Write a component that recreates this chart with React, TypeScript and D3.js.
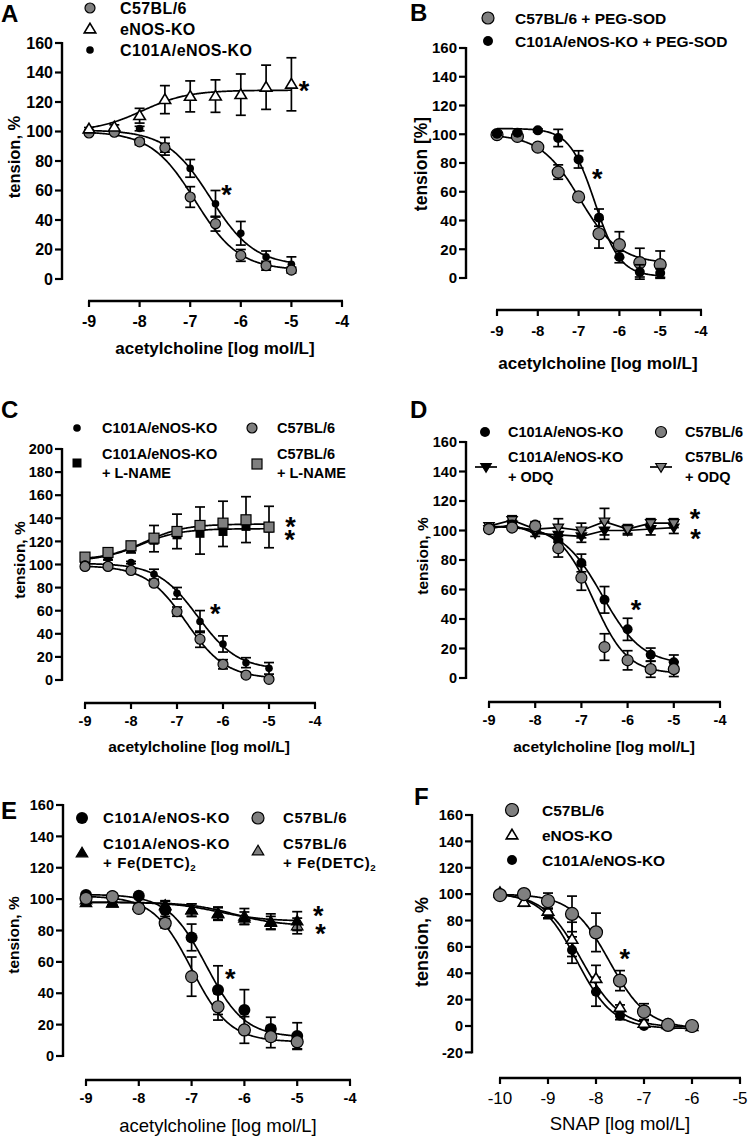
import React from "react";
import * as d3 from "d3";

const FONT = '"Liberation Sans", Arial, Helvetica, sans-serif';
const GRAY = "#7f7f7f";

// ---------------- Panel A ----------------
const xA = [-9, -8.5, -8, -7.5, -7, -6.5, -6, -5.5, -5];
const A_c57 = [99, 99.5, 93, 89, 55.6, 37.5, 16, 9, 6];
const A_c57Err = [1, 1, 2, 3, 7, 5, 4, 3, 2];
const A_enos = [101.7, 103, 110.7, 121.6, 123.8, 124, 125, 130, 132];
const A_enosErr = [1, 1.5, 5, 9.5, 10.5, 11, 14, 15, 18];
const A_c101 = [100, 99.5, 102, 90, 75, 51, 31, 15, 10];
const A_c101Err = [1, 1, 1.5, 6, 6, 9, 8, 4, 5];
// fitted curve parameters: [left plateau, right plateau, logEC50, hill]
const A_c57Fit = [100, 6, -6.9, 1.0];
const A_enosFit = [100, 128, -7.95, 0.95];
const A_c101Fit = [101, 9, -6.6, 1.0];

// ---------------- Panel B ----------------
const xB = [-9, -8.5, -8, -7.5, -7, -6.5, -6, -5.5, -5];
const B_c57 = [99.7, 98.5, 91, 73.7, 56.4, 30.8, 23.2, 10.7, 9.3];
const B_c57Err = [1, 1, 1.5, 5, 2, 10, 9, 10, 9.5];
const B_c101 = [100.4, 101, 102.7, 97.4, 82.5, 42, 14.6, 4.2, 3.5];
const B_c101Err = [1, 1, 1, 6, 6, 6, 4, 5, 3];
const B_c57Fit = [100, 10, -6.97, 0.9];
const B_c101Fit = [104, 1, -6.6, 1.4];

// ---------------- Panel C ----------------
const xC = [-9, -8.5, -8, -7.5, -7, -6.5, -6, -5.5, -5];
const C_c101 = [100.3, 99.7, 101.7, 91.6, 75.1, 50.6, 31.2, 15, 10.1];
const C_c101Err = [1, 1, 1, 4.3, 5, 9.5, 7, 4.3, 5];
const C_c57 = [98.3, 98.3, 94.8, 83.8, 59.2, 35.3, 13.6, 4.3, 0.6];
const C_c57Err = [1, 1, 1.5, 2, 4, 7, 4, 2, 1.5];
const C_c101L = [104.6, 107, 114, 121, 125.7, 127, 128.6, 133, 131.5];
const C_c101LErr = [2, 3, 4, 10, 12, 18, 13, 14, 17];
const C_c57L = [106.4, 110.4, 116.2, 122.8, 128.6, 133.8, 135.8, 138.7, 132.4];
const C_c57LErr = [2, 2, 3, 11, 15, 16, 19, 20, 18];
const C_c101Fit = [101, 9, -6.55, 1.0];
const C_c57Fit = [99, 1, -6.8, 1.0];
const C_c101LFit = [103, 131, -7.8, 1.0];
const C_c57LFit = [104, 135, -7.7, 1.0];

// ---------------- Panel D ----------------
const xD = [-9, -8.5, -8, -7.5, -7, -6.5, -6, -5.5, -5];
const D_c101 = [102, 104, 104, 93, 78, 53, 33, 15.8, 10.6];
const D_c101Err = [1, 2, 2, 4, 6, 9, 7.5, 4.5, 5];
const D_c57 = [101, 102, 103, 88, 68, 21, 12, 6, 6];
const D_c57Err = [1, 1.5, 2, 6, 8.5, 9, 6.5, 5.5, 5];
const D_c101ODQ = [101, 104, 98, 97, 96, 100, 100, 101, 102];
const D_c101ODQErr = [2, 3, 2, 5, 4, 6, 3, 4, 4];
const D_c57ODQ = [103, 107, 101, 102, 100, 106, 101, 105, 105];
const D_c57ODQErr = [2, 3, 2, 6, 5, 9, 3, 3, 3];
const D_c101Fit = [103, 9, -6.55, 1.0];
const D_c57Fit = [103, 3, -6.74, 1.19];

// ---------------- Panel E ----------------
const xE = [-9, -8.5, -8, -7.5, -7, -6.5, -6, -5.5, -5];
const E_c101 = [102.6, 101.6, 102.2, 93, 75.6, 42, 29.3, 17.2, 12.7];
const E_c101Err = [1, 1, 1, 4, 8.5, 15.5, 13, 7.5, 8.5];
const E_c57 = [100.5, 101.6, 94.1, 84.6, 50.6, 31.4, 16.6, 12.3, 9.1];
const E_c57Err = [1, 1, 2, 3, 12.5, 8.5, 8.5, 7, 4.5];
const E_c101Fe = [97.7, 97.3, 96.3, 95.6, 93, 90.5, 87.8, 85, 86];
const E_c101FeErr = [1, 1, 1, 3, 4, 4, 4, 4, 6];
const E_c57Fe = [99.4, 97.5, 96, 96, 93, 91, 89, 85.6, 82.9];
const E_c57FeErr = [1, 1, 1, 3, 4, 4, 5, 5, 5];
const E_c101Fit = [103, 12, -6.72, 1.2];
const E_c57Fit = [102, 9, -7.0, 1.2];
const E_c101FeFit = [98, 86, -6.5, 1.0];
const E_c57FeFit = [98, 83, -6.2, 1.0];

// ---------------- Panel F ----------------
const xF = [-10, -9.5, -9, -8.5, -8, -7.5, -7, -6.5, -6];
const F_c57 = [99.3, 100, 94.8, 85, 71, 34.4, 10.9, 0.8, 0];
const F_c57Err = [1, 1, 6, 13.5, 14.6, 7.6, 6, 1, 1];
const F_enos = [101, 93.8, 87, 65.7, 36, 14, 2, 1, -0.5];
const F_enosErr = [1, 3, 5, 13, 10, 2, 2, 1, 1];
const F_c101 = [100, 99.3, 85.4, 57.6, 26, 7.8, 0, 0, -1.3];
const F_c101Err = [1, 1, 4, 10, 11, 3, 1, 1, 1];
const F_c57Fit = [100, -2, -7.72, 1.1];
const F_enosFit = [101, -1, -8.3, 1.1];
const F_c101Fit = [101, -2, -8.4, 1.15];

const ticksAch = [-9, -8, -7, -6, -5, -4];
const ticksSnap = [-10, -9, -8, -7, -6, -5];
const yTicks160 = [0, 20, 40, 60, 80, 100, 120, 140, 160];
const yTicks200 = [0, 20, 40, 60, 80, 100, 120, 140, 160, 180, 200];
const yTicksF = [-20, 0, 20, 40, 60, 80, 100, 120, 140, 160];

type Marker =
  | "grayCircle"
  | "blackCircle"
  | "openTri"
  | "blackTri"
  | "grayTri"
  | "blackTriDown"
  | "grayTriDown"
  | "blackSq"
  | "graySq";

interface Series {
  values: number[];
  err: number[];
  marker: Marker;
  size: number;
  fit?: number[];
  connect?: boolean;
  errDir?: "both" | "up" | "down";
}

interface LegendLine {
  text: string;
  sub?: string;
}
interface LegendItem {
  marker: Marker;
  size: number;
  mx: number;
  my: number;
  tx: number;
  ty: number;
  lines: LegendLine[];
  withLine?: boolean;
}

interface PanelCfg {
  letter: string;
  letterPos: [number, number];
  xs: number[];
  xDomain: [number, number];
  xRange: [number, number];
  yDomain: [number, number];
  yRange: [number, number];
  xTicks: number[];
  yTicks: number[];
  yAxisX: number;
  xAxisY: number;
  series: Series[];
  legend: LegendItem[];
  stars: [number, number][];
  yLabel: string;
  yLabelPos: [number, number];
  xLabel: string;
  xLabelPos: [number, number];
  tickFont: number;
  xTickFont?: number;
  xTickWeight?: string;
  tickWeight?: string;
  legendFont: number;
  legendSpacing?: number;
  yLabelFont: number;
  xLabelFont: number;
  xLabelWeight?: string;
  xTickOffset: number;
  legendDy?: number;
}

function logistic(p: number[], x: number) {
  const [left, right, c, h] = p;
  return left + (right - left) / (1 + Math.pow(10, h * (c - x)));
}

function MarkerShape({ kind, cx, cy, s }: { kind: Marker; cx: number; cy: number; s: number }) {
  const sw = 1.2;
  switch (kind) {
    case "grayCircle":
      return <circle cx={cx} cy={cy} r={s} fill={GRAY} stroke="#000" strokeWidth={sw} />;
    case "blackCircle":
      return <circle cx={cx} cy={cy} r={s} fill="#000" />;
    case "openTri":
    case "blackTri":
    case "grayTri": {
      const h = s * 1.75;
      const w = s * 1.05;
      const pts = `${cx},${cy - h * 0.6} ${cx - w},${cy + h * 0.4} ${cx + w},${cy + h * 0.4}`;
      const fill = kind === "openTri" ? "#fff" : kind === "blackTri" ? "#000" : GRAY;
      return <polygon points={pts} fill={fill} stroke="#000" strokeWidth={kind === "openTri" ? 1.6 : sw} strokeLinejoin="miter" />;
    }
    case "blackTriDown":
    case "grayTriDown": {
      const h = s * 1.75;
      const w = s * 1.05;
      const pts = `${cx},${cy + h * 0.6} ${cx - w},${cy - h * 0.4} ${cx + w},${cy - h * 0.4}`;
      const fill = kind === "blackTriDown" ? "#000" : GRAY;
      return <polygon points={pts} fill={fill} stroke="#000" strokeWidth={sw} />;
    }
    case "blackSq":
      return <rect x={cx - s} y={cy - s} width={2 * s} height={2 * s} fill="#000" />;
    case "graySq":
      return <rect x={cx - s} y={cy - s} width={2 * s} height={2 * s} fill={GRAY} stroke="#000" strokeWidth={sw} />;
  }
  return null;
}

function Panel({ cfg }: { cfg: PanelCfg }) {
  const x = d3.scaleLinear().domain(cfg.xDomain).range(cfg.xRange);
  const y = d3.scaleLinear().domain(cfg.yDomain).range(cfg.yRange);
  const x0 = cfg.xs[0];
  const x1 = cfg.xs[cfg.xs.length - 1];
  const curvePts = d3.range(0, 201).map((i) => x0 + ((x1 - x0) * i) / 200);
  const line = d3
    .line<[number, number]>()
    .x((d) => x(d[0]))
    .y((d) => y(d[1]));
  const tickLen = 7;
  const yTop = y(cfg.yTicks[cfg.yTicks.length - 1]);
  const yBot = y(cfg.yTicks[0]);
  const xLeft = x(cfg.xTicks[0]);
  const xRight = x(cfg.xTicks[cfg.xTicks.length - 1]);
  const tw = cfg.tickWeight || "bold";
  return (
    <g fontFamily={FONT}>
      {/* panel letter */}
      <text x={cfg.letterPos[0]} y={cfg.letterPos[1]} fontSize={24} fontWeight="bold">
        {cfg.letter}
      </text>
      {/* y axis */}
      <line x1={cfg.yAxisX} x2={cfg.yAxisX} y1={yTop - 1} y2={yBot + 1} stroke="#000" strokeWidth={2.4} />
      {cfg.yTicks.map((t) => (
        <g key={"yt" + t}>
          <line x1={cfg.yAxisX - tickLen} x2={cfg.yAxisX} y1={y(t)} y2={y(t)} stroke="#000" strokeWidth={2.2} />
          <text
            x={cfg.yAxisX - tickLen - 2}
            y={y(t)}
            dy="0.36em"
            textAnchor="end"
            fontSize={cfg.tickFont}
            fontWeight={tw}
          >
            {t}
          </text>
        </g>
      ))}
      {/* x axis */}
      <line x1={xLeft - 1} x2={xRight + 1} y1={cfg.xAxisY} y2={cfg.xAxisY} stroke="#000" strokeWidth={2.4} />
      {cfg.xTicks.map((t) => (
        <g key={"xt" + t}>
          <line x1={x(t)} x2={x(t)} y1={cfg.xAxisY} y2={cfg.xAxisY + 6} stroke="#000" strokeWidth={2.2} />
          <text
            x={x(t)}
            y={cfg.xAxisY + cfg.xTickOffset}
            dy="0.36em"
            textAnchor="middle"
            fontSize={cfg.xTickFont || cfg.tickFont}
            fontWeight={cfg.xTickWeight || tw}
          >
            {t}
          </text>
        </g>
      ))}
      {/* axis titles */}
      <text
        transform={`translate(${cfg.yLabelPos[0]},${cfg.yLabelPos[1]}) rotate(-90)`}
        dy="0.36em"
        textAnchor="middle"
        fontSize={cfg.yLabelFont}
        fontWeight="bold"
      >
        {cfg.yLabel}
      </text>
      <text
        x={cfg.xLabelPos[0]}
        y={cfg.xLabelPos[1]}
        dy="0.36em"
        textAnchor="middle"
        fontSize={cfg.xLabelFont}
        fontWeight={cfg.xLabelWeight || "bold"}
      >
        {cfg.xLabel}
      </text>
      {/* curves */}
      {cfg.series.map((s, i) => {
        const pts: [number, number][] = s.connect
          ? cfg.xs.map((xv, j) => [xv, s.values[j]])
          : s.fit
          ? curvePts.map((xv) => [xv, logistic(s.fit as number[], xv)])
          : [];
        if (!pts.length) return null;
        return <path key={"c" + i} d={line(pts) || ""} fill="none" stroke="#000" strokeWidth={1.7} />;
      })}
      {/* error bars and markers */}
      {cfg.series.map((s, i) => (
        <g key={"s" + i}>
          {cfg.xs.map((xv, j) => {
            const v = s.values[j];
            const e = s.err[j];
            const dir = s.errDir || "both";
            const top = dir === "down" ? v : v + e;
            const bot = dir === "up" ? v : v - e;
            const cx = x(xv);
            const cap = 5;
            return (
              <g key={"e" + j} stroke="#000" strokeWidth={1.7}>
                <line x1={cx} x2={cx} y1={y(top)} y2={y(bot)} />
                {dir !== "down" && <line x1={cx - cap} x2={cx + cap} y1={y(top)} y2={y(top)} />}
                {dir !== "up" && <line x1={cx - cap} x2={cx + cap} y1={y(bot)} y2={y(bot)} />}
              </g>
            );
          })}
          {cfg.xs.map((xv, j) => (
            <MarkerShape key={"m" + j} kind={s.marker} cx={x(xv)} cy={y(s.values[j])} s={s.size} />
          ))}
        </g>
      ))}
      {/* significance stars */}
      {cfg.stars.map((st, i) => (
        <text
          key={"st" + i}
          x={x(st[0])}
          y={y(st[1]) + 13}
          textAnchor="middle"
          fontSize={27}
          fontWeight="bold"
        >
          *
        </text>
      ))}
      {/* legend */}
      {cfg.legend.map((it, i) => (
        <g key={"l" + i}>
          {it.withLine && (
            <line x1={it.mx - 11} x2={it.mx + 11} y1={it.my} y2={it.my} stroke="#000" strokeWidth={1.7} />
          )}
          <MarkerShape kind={it.marker} cx={it.mx} cy={it.my} s={it.size} />
          {it.lines.map((ln, k) => (
            <text
              key={k}
              x={it.tx}
              y={it.ty + k * (cfg.legendDy || 19)}
              dy="0.36em"
              fontSize={cfg.legendFont}
              fontWeight="bold"
              letterSpacing={cfg.legendSpacing || 0}
            >
              {ln.text}
              {ln.sub && (
                <tspan fontSize={cfg.legendFont * 0.65} dy="0.3em">
                  {ln.sub}
                </tspan>
              )}
            </text>
          ))}
        </g>
      ))}
    </g>
  );
}

const ACH = "acetylcholine [log mol/L]";

const panelA: PanelCfg = {
  letter: "A",
  letterPos: [1, 22],
  xs: xA,
  xDomain: [-9, -4],
  xRange: [89, 342],
  yDomain: [0, 160],
  yRange: [279, 43],
  xTicks: ticksAch,
  yTicks: yTicks160,
  yAxisX: 62,
  xAxisY: 301,
  series: [
    { values: A_c101, err: A_c101Err, marker: "blackCircle", size: 3.8, fit: A_c101Fit },
    { values: A_c57, err: A_c57Err, marker: "grayCircle", size: 5, fit: A_c57Fit },
    { values: A_enos, err: A_enosErr, marker: "openTri", size: 5.5, fit: A_enosFit },
  ],
  legend: [
    { marker: "grayCircle", size: 5, mx: 90, my: 8, tx: 120, ty: 8, lines: [{ text: "C57BL/6" }] },
    { marker: "openTri", size: 5.5, mx: 90, my: 29, tx: 120, ty: 29, lines: [{ text: "eNOS-KO" }] },
    { marker: "blackCircle", size: 3.8, mx: 90, my: 50, tx: 120, ty: 50, lines: [{ text: "C101A/eNOS-KO" }] },
  ],
  stars: [
    [-4.75, 130],
    [-6.28, 59.4],
  ],
  yLabel: "tension, %",
  yLabelPos: [14, 157],
  xLabel: ACH,
  xLabelPos: [215, 348],
  tickFont: 16,
  legendFont: 16,
  legendSpacing: 0.4,
  yLabelFont: 16.5,
  xLabelFont: 17,
  xTickOffset: 20,
};

const panelB: PanelCfg = {
  letter: "B",
  letterPos: [410, 21],
  xs: xB,
  xDomain: [-9, -4],
  xRange: [497, 701],
  yDomain: [0, 160],
  yRange: [278, 48],
  xTicks: ticksAch,
  yTicks: yTicks160,
  yAxisX: 466,
  xAxisY: 310,
  series: [
    { values: B_c57, err: B_c57Err, marker: "grayCircle", size: 6, fit: B_c57Fit },
    { values: B_c101, err: B_c101Err, marker: "blackCircle", size: 5, fit: B_c101Fit },
  ],
  legend: [
    { marker: "grayCircle", size: 6, mx: 488, my: 18, tx: 515, ty: 18, lines: [{ text: "C57BL/6 + PEG-SOD" }] },
    { marker: "blackCircle", size: 5, mx: 488, my: 41, tx: 515, ty: 41, lines: [{ text: "C101A/eNOS-KO + PEG-SOD" }] },
  ],
  stars: [[-6.54, 71.4]],
  yLabel: "tension [%]",
  yLabelPos: [421, 164],
  xLabel: ACH,
  xLabelPos: [598, 363],
  tickFont: 15,
  legendFont: 15.5,
  yLabelFont: 17.5,
  xLabelFont: 17,
  xTickOffset: 21,
};

const panelC: PanelCfg = {
  letter: "C",
  letterPos: [1, 418],
  xs: xC,
  xDomain: [-9, -4],
  xRange: [85, 315],
  yDomain: [0, 200],
  yRange: [680, 449],
  xTicks: ticksAch,
  yTicks: yTicks200,
  yAxisX: 62,
  xAxisY: 703,
  series: [
    { values: C_c101L, err: C_c101LErr, marker: "blackSq", size: 4.5, fit: C_c101LFit, errDir: "down" },
    { values: C_c57L, err: C_c57LErr, marker: "graySq", size: 5, fit: C_c57LFit, errDir: "up" },
    { values: C_c101, err: C_c101Err, marker: "blackCircle", size: 3.8, fit: C_c101Fit },
    { values: C_c57, err: C_c57Err, marker: "grayCircle", size: 5, fit: C_c57Fit },
  ],
  legend: [
    { marker: "blackCircle", size: 3.8, mx: 77, my: 428, tx: 102, ty: 428, lines: [{ text: "C101A/eNOS-KO" }] },
    { marker: "grayCircle", size: 5, mx: 252, my: 428, tx: 277, ty: 428, lines: [{ text: "C57BL/6" }] },
    {
      marker: "blackSq",
      size: 4.5,
      mx: 77,
      my: 463,
      tx: 102,
      ty: 454,
      lines: [{ text: "C101A/eNOS-KO" }, { text: "+ L-NAME" }],
    },
    {
      marker: "graySq",
      size: 5,
      mx: 257,
      my: 464,
      tx: 277,
      ty: 454,
      lines: [{ text: "C57BL/6" }, { text: "+ L-NAME" }],
    },
  ],
  stars: [
    [-4.53, 135.8],
    [-4.55, 124.3],
    [-6.17, 60.7],
  ],
  yLabel: "tension, %",
  yLabelPos: [19, 560],
  xLabel: ACH,
  xLabelPos: [199, 746],
  tickFont: 14.5,
  legendFont: 14.5,
  yLabelFont: 15.5,
  xLabelFont: 15.5,
  xTickOffset: 18,
  legendDy: 19,
};

const panelD: PanelCfg = {
  letter: "D",
  letterPos: [410, 418],
  xs: xD,
  xDomain: [-9, -4],
  xRange: [489, 720],
  yDomain: [0, 160],
  yRange: [678, 442],
  xTicks: ticksAch,
  yTicks: yTicks160,
  yAxisX: 466,
  xAxisY: 702,
  series: [
    { values: D_c101ODQ, err: D_c101ODQErr, marker: "blackTriDown", size: 5, connect: true },
    { values: D_c57ODQ, err: D_c57ODQErr, marker: "grayTriDown", size: 5, connect: true },
    { values: D_c101, err: D_c101Err, marker: "blackCircle", size: 5, fit: D_c101Fit },
    { values: D_c57, err: D_c57Err, marker: "grayCircle", size: 5.5, fit: D_c57Fit },
  ],
  legend: [
    { marker: "blackCircle", size: 5, mx: 485, my: 432, tx: 508, ty: 432, lines: [{ text: "C101A/eNOS-KO" }] },
    { marker: "grayCircle", size: 5.5, mx: 661, my: 432, tx: 685, ty: 432, lines: [{ text: "C57BL/6" }] },
    {
      marker: "blackTriDown",
      size: 5,
      mx: 486,
      my: 467,
      tx: 508,
      ty: 457,
      lines: [{ text: "C101A/eNOS-KO" }, { text: " + ODQ" }],
      withLine: true,
    },
    {
      marker: "grayTriDown",
      size: 5,
      mx: 661,
      my: 467,
      tx: 685,
      ty: 457,
      lines: [{ text: "C57BL/6" }, { text: "+ ODQ" }],
      withLine: true,
    },
  ],
  stars: [
    [-4.54, 110.4],
    [-4.53, 96.9],
    [-5.82, 49.1],
  ],
  yLabel: "tension, %",
  yLabelPos: [422, 556],
  xLabel: ACH,
  xLabelPos: [604, 746],
  tickFont: 14.5,
  legendFont: 14.5,
  yLabelFont: 15.5,
  xLabelFont: 15.5,
  xTickOffset: 18,
  legendDy: 20,
};

const panelE: PanelCfg = {
  letter: "E",
  letterPos: [1, 819],
  xs: xE,
  xDomain: [-9, -4],
  xRange: [86, 350],
  yDomain: [0, 160],
  yRange: [1056, 805],
  xTicks: ticksAch,
  yTicks: yTicks160,
  yAxisX: 63,
  xAxisY: 1080,
  series: [
    { values: E_c57Fe, err: E_c57FeErr, marker: "grayTri", size: 5.5, fit: E_c57FeFit },
    { values: E_c101Fe, err: E_c101FeErr, marker: "blackTri", size: 5.5, fit: E_c101FeFit },
    { values: E_c101, err: E_c101Err, marker: "blackCircle", size: 6, fit: E_c101Fit },
    { values: E_c57, err: E_c57Err, marker: "grayCircle", size: 6, fit: E_c57Fit },
  ],
  legend: [
    { marker: "blackCircle", size: 6, mx: 82, my: 818, tx: 103, ty: 818, lines: [{ text: "C101A/eNOS-KO" }] },
    { marker: "grayCircle", size: 6, mx: 258, my: 818, tx: 283, ty: 818, lines: [{ text: "C57BL/6" }] },
    {
      marker: "blackTri",
      size: 5.5,
      mx: 82,
      my: 853,
      tx: 103,
      ty: 844,
      lines: [{ text: "C101A/eNOS-KO" }, { text: "+ Fe(DETC)", sub: "2" }],
    },
    {
      marker: "grayTri",
      size: 5.5,
      mx: 258,
      my: 851,
      tx: 283,
      ty: 844,
      lines: [{ text: "C57BL/6" }, { text: "+ Fe(DETC)", sub: "2" }],
    },
  ],
  stars: [
    [-4.6, 92],
    [-4.56, 80.3],
    [-6.27, 51.6],
  ],
  yLabel: "tension, %",
  yLabelPos: [13, 935],
  xLabel: ACH,
  xLabelPos: [218, 1125],
  xLabelWeight: "normal",
  tickFont: 14.5,
  legendFont: 15,
  legendSpacing: 0.6,
  yLabelFont: 15.5,
  xLabelFont: 18.5,
  xTickOffset: 18,
  legendDy: 19,
};

const panelF: PanelCfg = {
  letter: "F",
  letterPos: [414, 805],
  xs: xF,
  xDomain: [-10, -5],
  xRange: [500, 740],
  yDomain: [0, 160],
  yRange: [1026, 815],
  xTicks: ticksSnap,
  yTicks: yTicksF,
  yAxisX: 472,
  xAxisY: 1078,
  series: [
    { values: F_c101, err: F_c101Err, marker: "blackCircle", size: 5, fit: F_c101Fit },
    { values: F_enos, err: F_enosErr, marker: "openTri", size: 5.5, fit: F_enosFit },
    { values: F_c57, err: F_c57Err, marker: "grayCircle", size: 6.5, fit: F_c57Fit },
  ],
  legend: [
    { marker: "grayCircle", size: 6.5, mx: 512, my: 810, tx: 542, ty: 810, lines: [{ text: "C57BL/6" }] },
    { marker: "openTri", size: 5.5, mx: 512, my: 835, tx: 542, ty: 835, lines: [{ text: "eNOS-KO" }] },
    { marker: "blackCircle", size: 5, mx: 512, my: 860, tx: 542, ty: 860, lines: [{ text: "C101A/eNOS-KO" }] },
  ],
  stars: [[-7.4, 53.8]],
  yLabel: "tension, %",
  yLabelPos: [422, 942],
  xLabel: "SNAP [log mol/L]",
  xLabelPos: [620, 1123],
  xLabelWeight: "normal",
  tickFont: 14.5,
  xTickFont: 17,
  xTickWeight: "normal",
  legendFont: 15.5,
  yLabelFont: 18,
  xLabelFont: 18.5,
  xTickOffset: 20,
};

const panels = [panelA, panelB, panelC, panelD, panelE, panelF];

export default function App() {
  return (
    <svg
      width={750}
      height={1137}
      viewBox="0 0 750 1137"
      style={{ position: "absolute", left: 0, top: 0, background: "#fff" }}
    >
      <rect x={0} y={0} width={750} height={1137} fill="#fff" />
      {panels.map((p) => (
        <Panel key={p.letter} cfg={p} />
      ))}
    </svg>
  );
}
